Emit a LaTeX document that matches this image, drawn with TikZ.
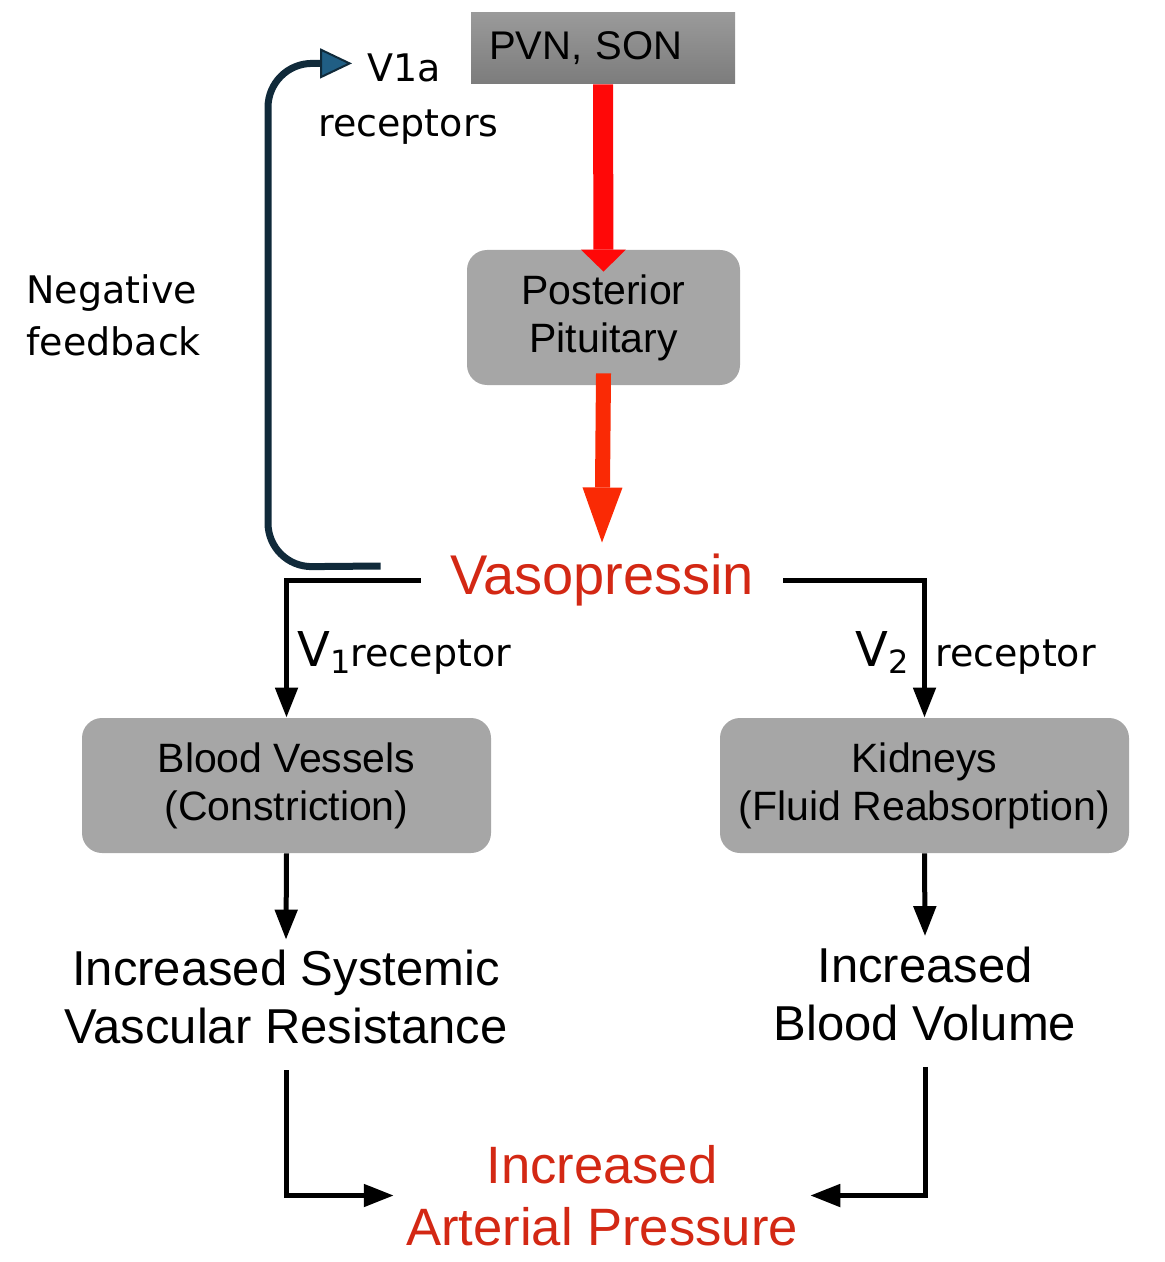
\documentclass[tikz,border=0pt]{standalone}
\usepackage{fontspec}
\setmainfont{Liberation Sans}
\newfontfamily\verafont{DejaVu Sans}
\usetikzlibrary{arrows.meta}

\definecolor{boxgray}{RGB}{166,166,166}
\definecolor{pvntop}{RGB}{154,154,154}
\definecolor{pvnbot}{RGB}{124,124,124}
\definecolor{vasored}{RGB}{211,40,20}
\definecolor{fbnavy}{RGB}{16,42,58}
\definecolor{fbblue}{RGB}{32,94,132}
\definecolor{arrred}{RGB}{255,8,8}
\definecolor{arrorange}{RGB}{250,42,5}

\tikzset{
  organ/.style={fill=boxgray, rounded corners=10pt, minimum width=204.5pt, minimum height=67.5pt,
    align=center, font=\fontsize{20.5}{24}\selectfont},
  pvnbox/.style={top color=pvntop, bottom color=pvnbot, minimum width=132pt, minimum height=35.5pt,
    text width=114pt, inner xsep=9pt, align=left, font=\fontsize{20}{24}\selectfont},
  outcome/.style={align=center, inner ysep=5pt, font=\fontsize{24.5}{29}\selectfont},
  lbl/.style={inner sep=0pt, font=\verafont\fontsize{19}{26}\selectfont},
  blkarrow/.style={line width=2.5pt, -{Triangle[length=15pt,width=11pt]}},
  fbarrow/.style={draw=fbnavy, line width=3.5pt, rounded corners=22pt,
    -{Triangle[length=16pt,width=15pt,fill=fbblue,line width=1pt]}},
}

\begin{document}
\begin{tikzpicture}[x=0.5pt,y=0.5pt,yscale=-1,xscale=1]
\useasboundingbox (0,0) rectangle (1164,1262);

% Boxes
\node[pvnbox] (pvn) at (603,48.5) {PVN, SON};
\node[organ, minimum width=136.5pt] (post) at (603.5,317.5) {Posterior\\Pituitary};
\node[organ] (bv) at (286.5,785.5) {Blood Vessels\\(Constriction)};
\node[organ] (kid) at (924.5,785.5) {Kidneys\\(Fluid Reabsorption)};

% Text Node
\node[inner xsep=14.5pt, inner ysep=5.5pt, text=vasored, font=\fontsize{28}{32}\selectfont] (vaso) at (602,580) {Vasopressin};
\node[outcome] (isvr) at (286,997) {Increased Systemic\\Vascular Resistance};
\node[outcome] (ibv) at (925,993.5) {Increased\\Blood Volume};
\node[outcome, inner xsep=6pt, text=vasored, font=\fontsize{26.3}{31}\selectfont] (iap) at (602,1195.5) {Increased\\Arterial Pressure};

% Labels
\node[lbl, inner xsep=7.5pt, anchor=base west] (v1a) at (352,82) {V1a};
\node[lbl, anchor=base west] (rcpt) at (318,137) {receptors};
\node[lbl, anchor=west, align=left] (negfb) at (26,315) {Negative\\feedback};
\node[lbl, anchor=base west] (v1lbl) at (297,666) {{\fontsize{24}{28}\selectfont V}\raisebox{-3.5pt}{\fontsize{16}{18}\selectfont 1}receptor};
\node[lbl, anchor=base east] (v2lbl) at (909,666) {{\fontsize{24}{28}\selectfont V}\raisebox{-3.5pt}{\fontsize{16}{18}\selectfont 2}};
\node[lbl, anchor=base west] (v2rcpt) at (935,666) {receptor};

% Red arrows
\draw[draw=arrred, line width=10pt, -{Triangle[length=11pt,width=22.5pt,line width=0pt]}] (pvn.south) -- ([yshift=11pt]post.north);
\draw[draw=arrorange, line width=7.5pt, -{Triangle[length=27.5pt,width=20pt,line width=0pt]}] ([yshift=-6pt]post.south) -- (vaso.north);

% Negative feedback loop
\coordinate (fbturn) at (268,567);
\draw[fbarrow] ([xshift=-20pt,yshift=-7pt]vaso.west) -- (fbturn) |- ([yshift=-2.5pt]v1a.west);

% Receptor branches
\draw[blkarrow] (vaso.west) -| (bv.north);
\draw[blkarrow] (vaso.east) -| (kid.north);

% Effects
\draw[blkarrow] (bv.south) -- (isvr.north);
\draw[blkarrow] (kid.south) -- (ibv.north);
\draw[blkarrow] ([yshift=8pt]isvr.south) |- (iap.west);
\draw[blkarrow] ([yshift=8pt]ibv.south) |- (iap.east);

\end{tikzpicture}
\end{document}
